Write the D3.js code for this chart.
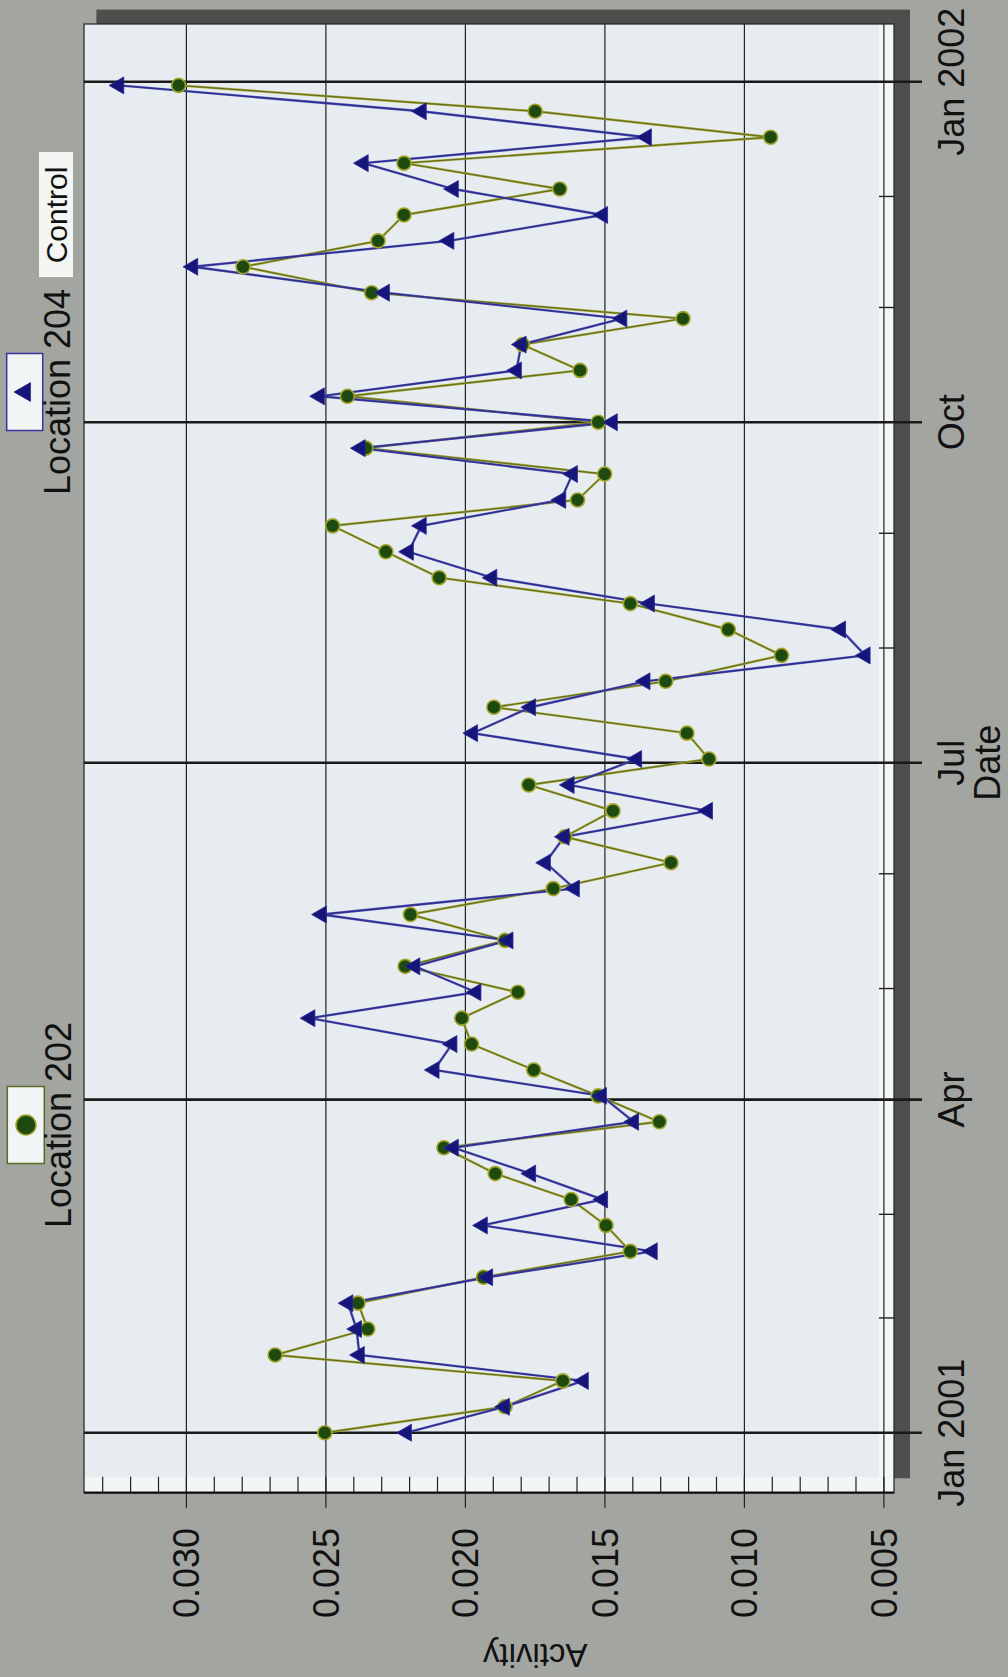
<!DOCTYPE html>
<html><head><meta charset="utf-8">
<script src="https://cdn.jsdelivr.net/npm/d3@7"></script>
<style>html,body{margin:0;padding:0;background:#a3a5a1;} svg{display:block}</style>
</head><body>
<svg id="chart" width="1008" height="1677"></svg>
<script>
const dates = [
 "2001-01-01","2001-01-08","2001-01-15","2001-01-22","2001-01-29",
 "2001-02-05","2001-02-12","2001-02-19","2001-02-26",
 "2001-03-05","2001-03-12","2001-03-19","2001-03-26",
 "2001-04-02","2001-04-09","2001-04-16","2001-04-23","2001-04-30",
 "2001-05-07","2001-05-14","2001-05-21","2001-05-28",
 "2001-06-04","2001-06-11","2001-06-18","2001-06-25",
 "2001-07-02","2001-07-09","2001-07-16","2001-07-23","2001-07-30",
 "2001-08-06","2001-08-13","2001-08-20","2001-08-27",
 "2001-09-03","2001-09-10","2001-09-17","2001-09-24",
 "2001-10-01","2001-10-08","2001-10-15","2001-10-22","2001-10-29",
 "2001-11-05","2001-11-12","2001-11-19","2001-11-26",
 "2001-12-03","2001-12-10","2001-12-17","2001-12-24","2001-12-31"];
const location202 = [
 0.02504,0.01858,0.01651,0.02682,0.02350,
 0.02385,0.01935,0.01409,0.01496,
 0.01621,0.01893,0.02077,0.01305,
 0.01524,0.01755,0.01978,0.02013,0.01812,
 0.02216,0.01858,0.02197,0.01685,
 0.01263,0.01644,0.01471,0.01773,
 0.01127,0.01206,0.01898,0.01282,0.00867,
 0.01058,0.01409,0.02094,0.02285,
 0.02476,0.01598,0.01501,0.02357,
 0.01524,0.02423,0.01589,0.01796,0.01220,
 0.02336,0.02797,0.02313,0.02220,
 0.01662,0.02220,0.00906,0.01750,0.03028];
const location204 = [
 0.02211,0.01860,0.01577,0.02380,0.02390,
 0.02421,0.01920,0.01330,0.01939,
 0.01508,0.01766,0.02043,0.01397,
 0.01512,0.02112,0.02048,0.02557,0.01962,
 0.02181,0.01847,0.02516,0.01609,
 0.01713,0.01646,0.01132,0.01628,
 0.01386,0.01974,0.01766,0.01356,0.00567,
 0.00655,0.01340,0.01905,0.02204,
 0.02158,0.01658,0.01616,0.02377,
 0.01473,0.02523,0.01817,0.01800,0.01439,
 0.02290,0.02977,0.02059,0.01508,
 0.02043,0.02366,0.01351,0.02158,0.03242];
const activityTicks = [0.030,0.025,0.020,0.015,0.010,0.005];
const activityTickLabels = ["0.030","0.025","0.020","0.015","0.010","0.005"];
const quarterTicks = ["2001-01-01","2001-04-01","2001-07-01","2001-10-01","2002-01-01"];
const quarterTickLabels = ["Jan 2001","Apr","Jul","Oct","Jan 2002"];
const monthTicks = ["2001-02-01","2001-03-01","2001-05-01","2001-06-01","2001-08-01","2001-09-01","2001-11-01","2001-12-01"];
const seriesNames = ["Location 202","Location 204"];

const parse = d3.utcParse("%Y-%m-%d");
const FONT = "'Liberation Sans', Arial, sans-serif";

// chart drawn in its natural orientation, then rotated -90deg on the page
const W = 1677, H = 1008;
const plot = {left:184.3, right:1653, top:84, bottom:894};

const x = d3.scaleUtc()
  .domain([parse("2001-01-01"), parse("2002-01-01")])
  .range([244.3, 1595.3]);
const y = d3.scaleLinear().domain([0.005, 0.030]).range([883.9, 186.4]);

const svg = d3.select("#chart");
svg.append("rect").attr("width",1008).attr("height",1677).attr("fill","#a3a5a1");
const g = svg.append("g").attr("transform", `translate(0,${W}) rotate(-90)`);

// shadow
g.append("rect").attr("x", plot.left+14.4).attr("y", plot.top+12.4)
  .attr("width", plot.right-plot.left).attr("height", plot.bottom-plot.top+3.6)
  .attr("fill","#4d4f4d");
// plot background
g.append("rect").attr("x", plot.left).attr("y", plot.top)
  .attr("width", plot.right-plot.left).attr("height", plot.bottom-plot.top)
  .attr("fill","#e6ecef");
// light inner strips where the minor ticks sit
g.append("rect").attr("x", plot.left).attr("y", plot.bottom-15)
  .attr("width", plot.right-plot.left).attr("height", 15).attr("fill","#f3f6f7");
g.append("rect").attr("x", plot.left).attr("y", plot.top)
  .attr("width", 16).attr("height", plot.bottom-plot.top).attr("fill","#f3f6f7");

// value grid lines + major ticks
g.selectAll(".vgrid").data(activityTicks).join("line")
  .attr("x1", plot.left-15).attr("x2", plot.right)
  .attr("y1", d=>y(d)).attr("y2", d=>y(d))
  .attr("stroke","#222").attr("stroke-width",1.2);
// value minor ticks
const minor = d3.range(5, 34).map(k=>k/1000);
g.selectAll(".vminor").data(minor).join("line")
  .attr("x1", plot.left).attr("x2", plot.left+16)
  .attr("y1", d=>y(d)).attr("y2", d=>y(d))
  .attr("stroke","#222").attr("stroke-width",1.2);
// month minor ticks
g.selectAll(".mminor").data(monthTicks).join("line")
  .attr("x1", d=>x(parse(d))).attr("x2", d=>x(parse(d)))
  .attr("y1", plot.bottom-15).attr("y2", plot.bottom)
  .attr("stroke","#222").attr("stroke-width",1.4);
// quarter grid lines
g.selectAll(".qgrid").data(quarterTicks).join("line")
  .attr("x1", d=>x(parse(d))).attr("x2", d=>x(parse(d)))
  .attr("y1", plot.top).attr("y2", plot.bottom+28)
  .attr("stroke","#1a1a1a").attr("stroke-width",2.6);

// frame
g.append("rect").attr("x", plot.left).attr("y", plot.top)
  .attr("width", plot.right-plot.left).attr("height", plot.bottom-plot.top)
  .attr("fill","none").attr("stroke","#222").attr("stroke-width",1.2);
g.append("line").attr("x1", plot.left).attr("x2", plot.left)
  .attr("y1", plot.top).attr("y2", plot.bottom)
  .attr("stroke","#111").attr("stroke-width",2.2);

// series
const pts202 = dates.map((d,i)=>({date:parse(d), v:location202[i]}));
const pts204 = dates.map((d,i)=>({date:parse(d), v:location204[i]}));
const line = d3.line().x(d=>x(d.date)).y(d=>y(d.v));

g.append("path").datum(pts202).attr("d", line).attr("fill","none")
  .attr("stroke","#a0a232").attr("stroke-width",2.4);
g.append("path").datum(pts202).attr("d", line).attr("fill","none")
  .attr("stroke","#4d5a1c").attr("stroke-width",0.8);
g.append("path").datum(pts204).attr("d", line).attr("fill","none")
  .attr("stroke","#4a4ab0").attr("stroke-width",2.4);
g.append("path").datum(pts204).attr("d", line).attr("fill","none")
  .attr("stroke","#22227a").attr("stroke-width",0.8);

g.selectAll(".c202").data(pts202).join("circle")
  .attr("cx", d=>x(d.date)).attr("cy", d=>y(d.v)).attr("r", 7)
  .attr("fill","#1d4a0e").attr("stroke","#a2a528").attr("stroke-width",1.6);
const tri = d3.symbol().type(d3.symbolTriangle).size(125);
g.selectAll(".t204").data(pts204).join("path")
  .attr("d", tri).attr("transform", d=>`translate(${x(d.date)},${y(d.v)})`)
  .attr("fill","#15157a").attr("stroke","#2a2a9a").attr("stroke-width",0.8);

// value tick labels
g.selectAll(".vlab").data(activityTicks).join("text")
  .attr("x", 149).attr("y", d=>y(d)).attr("dy","0.36em")
  .attr("text-anchor","end").attr("font-family",FONT).attr("font-size",36)
  .attr("fill","#111").text((d,i)=>activityTickLabels[i]);
// date tick labels
g.selectAll(".dlab").data(quarterTicks).join("text")
  .attr("x", d=>x(parse(d))).attr("y", 964)
  .attr("text-anchor","middle").attr("font-family",FONT).attr("font-size",36)
  .attr("fill","#111").text((d,i)=>quarterTickLabels[i]);
// axis titles
g.append("text").attr("x", x(parse("2001-07-01"))).attr("y", 1000)
  .attr("text-anchor","middle").attr("font-family",FONT).attr("font-size",36)
  .attr("fill","#111").text("Date");
g.append("text").attr("transform", `translate(33,${(y(0.005)+y(0.030))/2}) rotate(-90)`)
  .attr("text-anchor","middle").attr("font-family",FONT).attr("font-size",33)
  .attr("fill","#111").text("Activity");

// legend
const leg202X = 552, leg204X = 1285;
g.append("rect").attr("x", leg202X-38.5).attr("y", 7.3).attr("width",77).attr("height",37)
  .attr("fill","#f2f5f5").attr("stroke","#5a6a20").attr("stroke-width",1.5);
g.append("circle").attr("cx", leg202X).attr("cy", 26).attr("r", 10)
  .attr("fill","#1d4a0e").attr("stroke","#a2a528").attr("stroke-width",1.5);
g.append("text").attr("x", leg202X).attr("y", 71).attr("text-anchor","middle")
  .attr("font-family",FONT).attr("font-size",36).attr("fill","#111").text(seriesNames[0]);

g.append("rect").attr("x", leg204X-38.5).attr("y", 6.7).attr("width",77).attr("height",36)
  .attr("fill","#f2f5f5").attr("stroke","#3535a0").attr("stroke-width",1.5);
g.append("path").attr("d", d3.symbol().type(d3.symbolTriangle).size(175))
  .attr("transform", `translate(${leg204X},25)`).attr("fill","#15157a");
g.append("text").attr("x", leg204X).attr("y", 70).attr("text-anchor","middle")
  .attr("font-family",FONT).attr("font-size",36).attr("fill","#111").text(seriesNames[1]);

g.append("rect").attr("x", 1400).attr("y", 39).attr("width",125).attr("height",34)
  .attr("fill","#f4f6f4");
g.append("text").attr("x", 1462).attr("y", 67).attr("text-anchor","middle")
  .attr("font-family",FONT).attr("font-size",30).attr("fill","#111").text("Control");
</script>
</body></html>
